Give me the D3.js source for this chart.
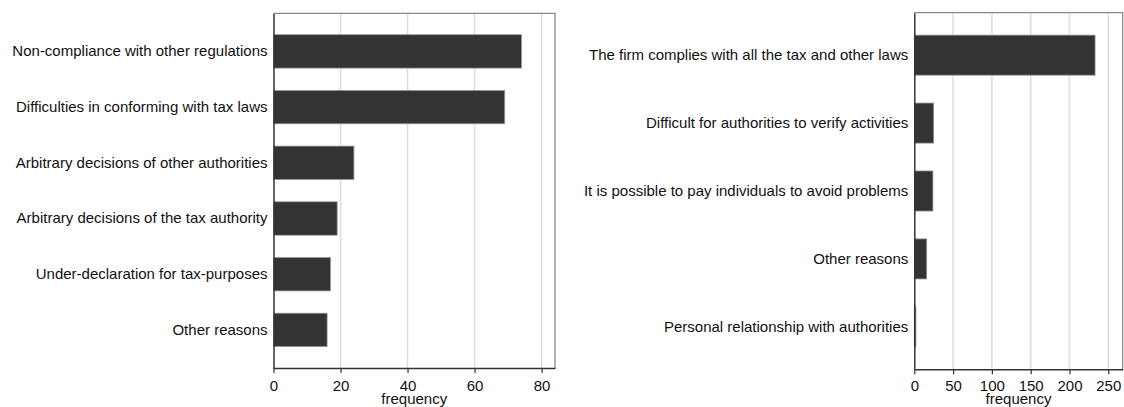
<!DOCTYPE html>
<html><head><meta charset="utf-8">
<script src="https://cdn.jsdelivr.net/npm/d3@7"></script>
<style>
body{margin:0;background:#fff;}
svg{display:block;font-family:"Liberation Sans",Arial,sans-serif;}
</style></head><body>
<svg id="c" width="1124" height="407"></svg>
<script>
const leftCategories = ["Non-compliance with other regulations","Difficulties in conforming with tax laws","Arbitrary decisions of other authorities","Arbitrary decisions of the tax authority","Under-declaration for tax-purposes","Other reasons"];
const leftValues = [74, 69, 24, 19, 17, 16];
const leftTicks = [0, 20, 40, 60, 80];
const rightCategories = ["The firm complies with all the tax and other laws","Difficult for authorities to verify activities","It is possible to pay individuals to avoid problems","Other reasons","Personal relationship with authorities"];
const rightValues = [233, 25, 24, 16, 2];
const rightTicks = [0, 50, 100, 150, 200, 250];
const axisTitle = "frequency";

const svg = d3.select("#c");
const FONT = "Liberation Sans, Arial, sans-serif";

function panel(cfg){
  const g = svg.append("g");
  const x = d3.scaleLinear().domain([0, cfg.xmax]).range([cfg.x0, cfg.x1]);
  const y = d3.scaleBand().domain(cfg.cats).range([cfg.y0, cfg.y1]).paddingInner(cfg.pi).paddingOuter(cfg.po);
  g.selectAll("line.grid").data(cfg.ticks.filter(t=>t>0)).enter().append("line")
    .attr("x1", d=>x(d)).attr("x2", d=>x(d)).attr("y1", cfg.y0).attr("y2", cfg.y1)
    .attr("stroke", "#dedede").attr("stroke-width", 1.6);
  g.append("path").attr("d", `M${cfg.x0},${cfg.y0}H${cfg.x1}V${cfg.y1}`)
    .attr("fill","none").attr("stroke","#8a8a8a").attr("stroke-width",1.3);
  g.selectAll("rect.bar").data(cfg.vals).enter().append("rect")
    .attr("x", x(0)).attr("y", (d,i)=>y(cfg.cats[i]))
    .attr("width", d=>x(d)-x(0)).attr("height", y.bandwidth())
    .attr("fill", "#333333").attr("stroke", "#9a9a9a").attr("stroke-width", 0.8);
  const xa = g.append("g").attr("transform", `translate(0,${cfg.y1})`)
    .call(d3.axisBottom(x).tickValues(cfg.ticks).tickSize(5).tickPadding(cfg.tp).tickSizeOuter(0));
  xa.attr("font-size", null).attr("font-family", null);
  xa.select(".domain").attr("stroke","#333").attr("stroke-width",1.5);
  xa.selectAll(".tick line").attr("stroke","#333").attr("stroke-width",1.2);
  xa.selectAll(".tick text").style("font-size", "15px").attr("fill","#111").style("font-family", FONT);
  const ya = g.append("g").attr("transform", `translate(${cfg.x0},0)`)
    .call(d3.axisLeft(y).tickSize(0).tickPadding(6));
  ya.attr("font-size", null).attr("font-family", null);
  ya.select(".domain").attr("stroke","#333").attr("stroke-width",1.5);
  ya.selectAll(".tick text").style("font-size", "15px").attr("fill","#111").style("font-family", FONT);
  g.append("text").attr("x", (cfg.x0+cfg.x1)/2).attr("y", 403.5)
    .attr("text-anchor","middle").style("font-size","15px").style("font-family", FONT).attr("fill","#111").text(axisTitle);
}

panel({cats:leftCategories, vals:leftValues, ticks:leftTicks, xmax:84,
  x0:273.5, x1:555, y0:13.3, y1:368, pi:0.40, po:0.384, tp:7});
panel({cats:rightCategories, vals:rightValues, ticks:rightTicks, xmax:268.6,
  x0:914.3, x1:1122.7, y0:12.7, y1:369.3, pi:0.41, po:0.33, tp:5.8});
</script>
</body></html>
